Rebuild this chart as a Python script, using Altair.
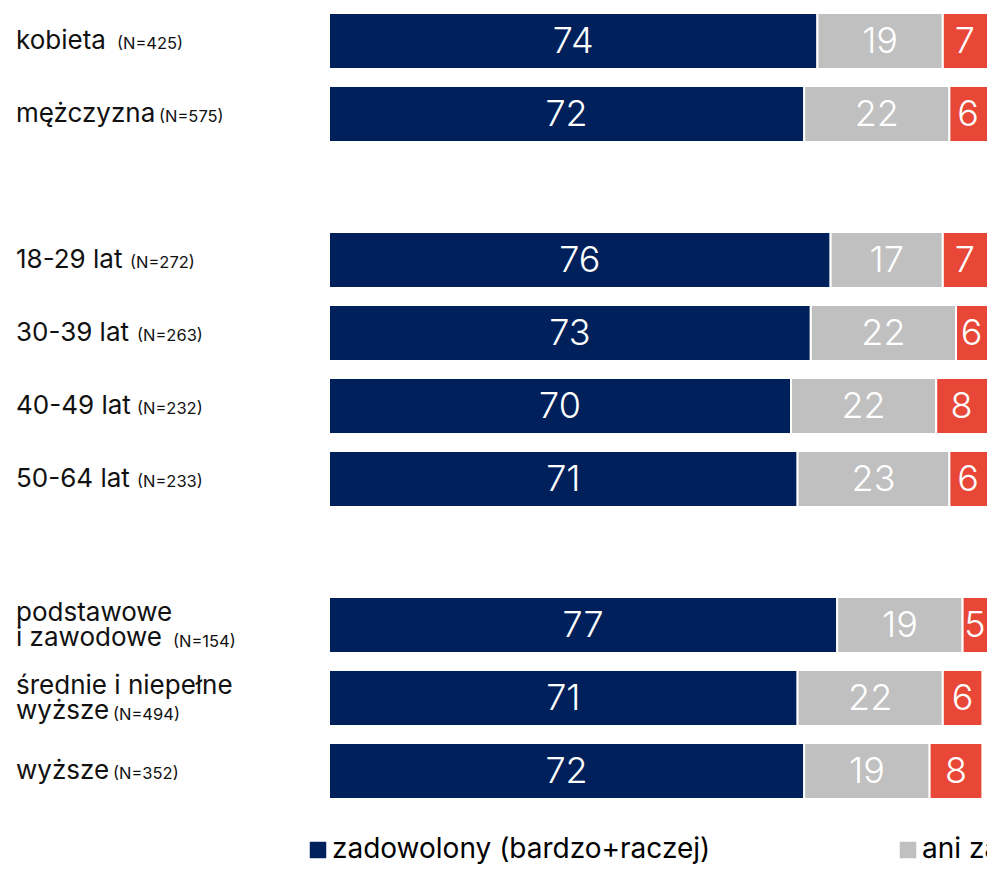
import altair as alt
import pandas as pd

labels = ["kobieta", "mężczyzna", "18-29 lat", "30-39 lat", "40-49 lat", "50-64 lat",
          "podstawowe\ni zawodowe", "średnie i niepełne\nwyższe", "wyższe"]
n_labels = ["(N=425)", "(N=575)", "(N=272)", "(N=263)", "(N=232)", "(N=233)",
            "(N=154)", "(N=494)", "(N=352)"]
groups = [0, 0, 1, 1, 1, 1, 2, 2, 2]
zadowolony = [74, 72, 76, 73, 70, 71, 77, 71, 72]
ani = [19, 22, 17, 22, 22, 23, 19, 22, 19]
niezadowolony = [7, 6, 7, 6, 8, 6, 5, 6, 8]
categories = ["zadowolony (bardzo+raczej)", "ani zadowolony, ani niezadowolony",
              "niezadowolony (bardzo+raczej)"]
colors = ["#00205B", "#C0C0C0", "#E84737"]
# page x at which the small "(N=...)" text starts (text layout)
n_x_page = [117, 159, 130, 137, 137, 137, 173, 113, 113]

row_ids = [f"r{i}" for i in range(len(labels))]
domain = []
for i, rid in enumerate(row_ids):
    if i > 0 and groups[i] != groups[i - 1]:
        domain.append(f"gap{groups[i]}")
    domain.append(rid)

rows = []
for i, rid in enumerate(row_ids):
    for k, (cat, vals) in enumerate(zip(categories, [zadowolony, ani, niezadowolony])):
        rows.append({"row": rid, "cat": cat, "value": vals[i], "order": k})
bars_df = pd.DataFrame(rows)

lab_df = pd.DataFrame({
    "row": row_ids,
    "label": labels,
    "n": n_labels,
    "nx": [x - 329 for x in n_x_page],
    "lines": [l.count("\n") + 1 for l in labels],
})

FONT = "Inter"
PLOT_W = 658
PX_PER_UNIT = 6.6
XMAX = PLOT_W / PX_PER_UNIT
yenc = alt.Y("row:N", scale=alt.Scale(domain=domain, paddingInner=0.233, paddingOuter=0.0685), axis=None)
xscale = alt.Scale(domain=[0, XMAX], nice=False, zero=True)

base = alt.Chart(bars_df).transform_stack(
    stack="value", groupby=["row"], as_=["v0", "v1"], sort=[alt.SortField("order")]
)

bars = base.mark_bar(stroke="white", strokeWidth=2).encode(
    x=alt.X("v0:Q", scale=xscale, axis=None),
    x2="v1:Q",
    y=yenc,
    color=alt.Color(
        "cat:N",
        scale=alt.Scale(domain=categories, range=colors),
        legend=alt.Legend(
            title=None, orient="none", legendX=-25, legendY=828, direction="horizontal",
            symbolType="square", symbolSize=272, symbolStrokeWidth=0,
            labelFontSize=28, labelFont=FONT, labelColor="#000000", labelOffset=0,
            columnPadding=183, labelLimit=2000, padding=0,
        ),
        sort=categories,
    ),
)

# label sits in the middle of the visible part of each segment
vals = base.transform_calculate(
    mid=f"(datum.v0 + min(datum.v1, {XMAX})) / 2"
).mark_text(
    color="white", fontSize=36, font=FONT, fontWeight=300, baseline="middle", align="center", dy=1
).encode(
    x=alt.X("mid:Q", scale=xscale),
    y=yenc,
    text="value:Q",
)

lab_base = alt.Chart(lab_df)
label_style = dict(align="left", baseline="middle", fontSize=26, font=FONT, color="#111111",
                   lineBreak="\n", lineHeight=25)
labels_single = lab_base.transform_filter("datum.lines == 1").mark_text(**label_style, dy=0).encode(
    x=alt.value(-313), y=yenc, text="label:N",
)
labels_double = lab_base.transform_filter("datum.lines == 2").mark_text(**label_style, dy=-12).encode(
    x=alt.value(-313), y=yenc, text="label:N",
)

n_style = dict(align="left", baseline="alphabetic", fontSize=16.5, font=FONT, color="#111111")
n_single = lab_base.transform_filter("datum.lines == 1").mark_text(**n_style, dy=8).encode(
    x=alt.X("nx:Q", scale=None), y=yenc, text="n:N",
)
n_double = lab_base.transform_filter("datum.lines == 2").mark_text(**n_style, dy=22).encode(
    x=alt.X("nx:Q", scale=None), y=yenc, text="n:N",
)

chart = alt.layer(bars, vals, labels_single, labels_double, n_single, n_double).properties(
    width=PLOT_W, height=796,
    padding={"left": 321, "top": 0, "right": 0, "bottom": 62},
    autosize=alt.AutoSizeParams(type="none"),
).configure_view(stroke=None)

chart.save("out.html", embed_options={"renderer": "svg", "actions": False})
